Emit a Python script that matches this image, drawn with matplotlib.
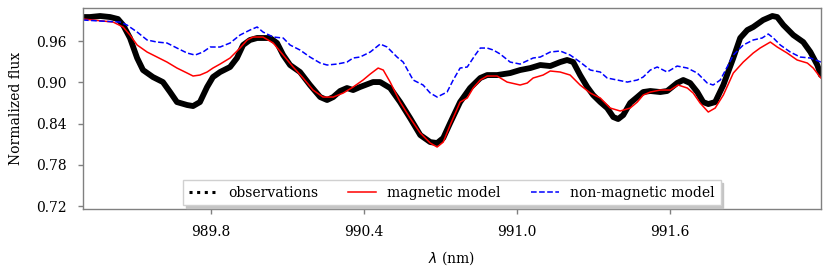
import matplotlib
matplotlib.use('Agg')
import matplotlib.pyplot as plt
from matplotlib.lines import Line2D

plt.rcParams['font.family'] = 'DejaVu Serif'
plt.rcParams['font.size'] = 10

# observed spectrum
obs_wl = [989.300, 989.327, 989.367, 989.406, 989.437, 989.457, 989.484, 989.512, 989.535, 989.574,
          989.613, 989.641, 989.668, 989.708, 989.731, 989.758, 989.786, 989.809, 989.837, 989.876,
          989.903, 989.927, 989.954, 989.982, 990.033, 990.060, 990.084, 990.111, 990.150, 990.189,
          990.229, 990.256, 990.280, 990.307, 990.334, 990.358, 990.385, 990.436, 990.464, 990.503,
          990.542, 990.581, 990.621, 990.660, 990.687, 990.711, 990.738, 990.777, 990.816, 990.856,
          990.883, 990.922, 990.973, 991.012, 991.052, 991.091, 991.130, 991.169, 991.196, 991.220,
          991.247, 991.275, 991.298, 991.326, 991.353, 991.377, 991.396, 991.416, 991.443, 991.471,
          991.494, 991.522, 991.561, 991.588, 991.627, 991.651, 991.678, 991.706, 991.729, 991.749,
          991.776, 991.808, 991.847, 991.874, 991.902, 991.925, 991.964, 992.000, 992.019, 992.043,
          992.082, 992.121, 992.149, 992.176, 992.190]
obs_flux = [0.9949, 0.9949, 0.9964, 0.9949, 0.9920, 0.9833, 0.9644, 0.9353, 0.9178, 0.9076,
            0.9003, 0.8858, 0.8712, 0.8669, 0.8654, 0.8712, 0.8931, 0.9076, 0.9149, 0.9222,
            0.9353, 0.9542, 0.9615, 0.9644, 0.9644, 0.9571, 0.9396, 0.9251, 0.9149, 0.8960,
            0.8785, 0.8742, 0.8785, 0.8873, 0.8916, 0.8887, 0.8931, 0.9003, 0.9003, 0.8916,
            0.8712, 0.8480, 0.8232, 0.8130, 0.8116, 0.8189, 0.8407, 0.8712, 0.8916, 0.9062,
            0.9105, 0.9105, 0.9134, 0.9178, 0.9207, 0.9251, 0.9236, 0.9294, 0.9324, 0.9294,
            0.9105, 0.8931, 0.8814, 0.8712, 0.8625, 0.8494, 0.8465, 0.8523, 0.8698, 0.8785,
            0.8858, 0.8873, 0.8858, 0.8873, 0.8989, 0.9033, 0.8989, 0.8858, 0.8712, 0.8683,
            0.8712, 0.8960, 0.9353, 0.9644, 0.9760, 0.9804, 0.9906, 0.9964, 0.9949, 0.9833,
            0.9687, 0.9585, 0.9440, 0.9251, 0.9105]

# magnetic model
mag_wl = [989.300, 989.418, 989.457, 989.484, 989.512, 989.551, 989.590, 989.629, 989.668, 989.708,
          989.731, 989.758, 989.786, 989.809, 989.837, 989.876, 989.915, 989.943, 989.966, 990.005,
          990.045, 990.084, 990.123, 990.162, 990.201, 990.240, 990.280, 990.319, 990.358, 990.397,
          990.425, 990.456, 990.476, 990.503, 990.542, 990.581, 990.621, 990.660, 990.687, 990.711,
          990.738, 990.777, 990.805, 990.828, 990.856, 990.883, 990.922, 990.961, 991.012, 991.040,
          991.063, 991.102, 991.130, 991.169, 991.208, 991.247, 991.287, 991.326, 991.365, 991.404,
          991.443, 991.471, 991.494, 991.522, 991.561, 991.600, 991.631, 991.667, 991.690, 991.717,
          991.749, 991.776, 991.808, 991.847, 991.886, 991.925, 991.952, 991.992, 992.019, 992.058,
          992.097, 992.137, 992.160, 992.190]
mag_flux = [0.9920, 0.9876, 0.9804, 0.9687, 0.9542, 0.9440, 0.9367, 0.9294, 0.9207, 0.9134,
            0.9091, 0.9105, 0.9149, 0.9207, 0.9265, 0.9353, 0.9498, 0.9615, 0.9658, 0.9658,
            0.9571, 0.9396, 0.9222, 0.9062, 0.8887, 0.8785, 0.8785, 0.8843, 0.8931, 0.9033,
            0.9120, 0.9207, 0.9178, 0.9003, 0.8712, 0.8480, 0.8261, 0.8116, 0.8058, 0.8130,
            0.8378, 0.8712, 0.8771, 0.8916, 0.9033, 0.9091, 0.9091, 0.9003, 0.8960, 0.8989,
            0.9062, 0.9105, 0.9164, 0.9149, 0.9105, 0.8960, 0.8843, 0.8771, 0.8625, 0.8582,
            0.8625, 0.8712, 0.8814, 0.8858, 0.8887, 0.8887, 0.8960, 0.8916, 0.8843, 0.8698,
            0.8567, 0.8625, 0.8814, 0.9134, 0.9294, 0.9425, 0.9498, 0.9585, 0.9513, 0.9425,
            0.9324, 0.9280, 0.9207, 0.9062]

# non-magnetic model
nonmag_wl = [989.300, 989.367, 989.445, 989.472, 989.512, 989.551, 989.590, 989.629, 989.668, 989.708,
             989.739, 989.770, 989.798, 989.837, 989.876, 989.915, 989.954, 989.982, 990.005, 990.045,
             990.084, 990.111, 990.150, 990.189, 990.229, 990.256, 990.295, 990.334, 990.358, 990.385,
             990.425, 990.464, 990.491, 990.530, 990.554, 990.593, 990.632, 990.660, 990.687, 990.726,
             990.750, 990.777, 990.805, 990.836, 990.856, 990.883, 990.907, 990.934, 990.973, 991.012,
             991.063, 991.091, 991.130, 991.169, 991.208, 991.247, 991.287, 991.326, 991.353, 991.392,
             991.432, 991.471, 991.494, 991.522, 991.549, 991.588, 991.627, 991.667, 991.706, 991.745,
             991.768, 991.796, 991.823, 991.847, 991.886, 991.925, 991.960, 991.984, 992.004, 992.031,
             992.070, 992.109, 992.149, 992.190]
nonmag_flux = [0.9906, 0.9891, 0.9876, 0.9833, 0.9731, 0.9615, 0.9585, 0.9571, 0.9498, 0.9425,
               0.9396, 0.9440, 0.9513, 0.9513, 0.9571, 0.9687, 0.9760, 0.9804, 0.9731, 0.9658,
               0.9644, 0.9542, 0.9469, 0.9367, 0.9280, 0.9251, 0.9265, 0.9294, 0.9353, 0.9367,
               0.9440, 0.9556, 0.9513, 0.9367, 0.9294, 0.9033, 0.8960, 0.8843, 0.8785, 0.8858,
               0.9033, 0.9207, 0.9222, 0.9396, 0.9498, 0.9498, 0.9469, 0.9411, 0.9294, 0.9265,
               0.9353, 0.9367, 0.9440, 0.9455, 0.9396, 0.9294, 0.9178, 0.9149, 0.9062, 0.9033,
               0.9003, 0.9033, 0.9076, 0.9178, 0.9222, 0.9149, 0.9236, 0.9207, 0.9134, 0.8989,
               0.8960, 0.9033, 0.9222, 0.9396, 0.9542, 0.9615, 0.9644, 0.9702, 0.9644, 0.9542,
               0.9440, 0.9367, 0.9353, 0.9294]

xticks = [989.8, 990.4, 991.0, 991.6]
yticks = [0.72, 0.78, 0.84, 0.90, 0.96]

fig = plt.figure(figsize=(8.3, 2.77), dpi=100)
ax = fig.add_axes([0.1, 0.2444, 0.889, 0.7266])

ax.plot(obs_wl, obs_flux, color='black', lw=4.2, solid_capstyle='round', solid_joinstyle='round')
ax.plot(mag_wl, mag_flux, color='red', lw=1.1)
ax.plot(nonmag_wl, nonmag_flux, color='blue', lw=1.1, linestyle='--')

ax.set_xlim(989.3, 992.19)
ax.set_ylim(0.7152, 1.008)
ax.set_xticks(xticks)
ax.set_xticklabels(['%.1f' % v for v in xticks])
ax.set_yticks(yticks)
ax.set_yticklabels(['%.2f' % v for v in yticks])

for s in ax.spines.values():
    s.set_color('#808080')
    s.set_linewidth(1.0)
ax.tick_params(direction='out', length=3.5, width=1, color='#808080', pad=8,
               top=False, right=False)

ax.set_xlabel(r'$\lambda$ (nm)', labelpad=7)
ax.set_ylabel('Normalized flux', labelpad=10)

# legend proxies
handles = [Line2D([], [], color='black', lw=2.2, linestyle=(0, (1, 1.5))),
           Line2D([], [], color='red', lw=1.1),
           Line2D([], [], color='blue', lw=1.1, linestyle='--')]
labels = ['observations', 'magnetic model', 'non-magnetic model']
leg = ax.legend(handles, labels, loc='lower center', ncol=3,
                shadow={'color': '#c4c4c4', 'alpha': 1.0}, fancybox=False,
                borderaxespad=0.3, framealpha=1, columnspacing=2.2)
leg.get_frame().set_edgecolor('#d0d0d0')

fig.savefig('out.png', dpi=100)
